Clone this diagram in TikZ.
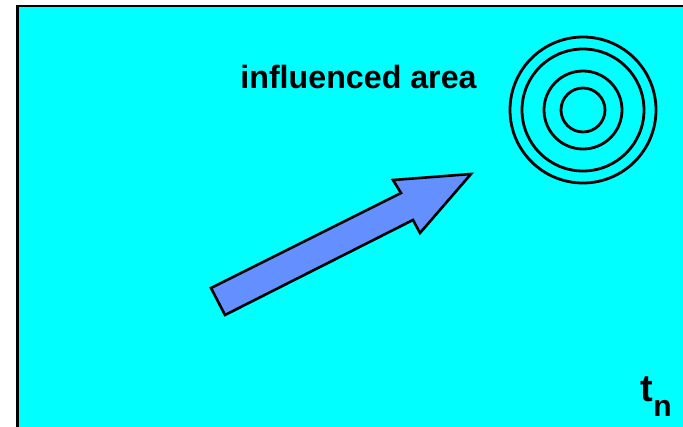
\documentclass[tikz,border=0pt]{standalone}
\usepackage{fontspec}
\setmainfont{Liberation Sans}
\begin{document}
\begin{tikzpicture}[x=1pt, y=-1pt, line cap=round, line join=miter]
  \definecolor{seacyan}{RGB}{0,255,255}
  \definecolor{arrowblue}{RGB}{99,143,255}
  \useasboundingbox (0,0) rectangle (683,426);
  \clip (0,0) rectangle (683,426);
  \coordinate (C) at (583,110);
  \filldraw[fill=seacyan, draw=black, line width=2.8pt] (17.5,6) rectangle (700,440);
  \filldraw[fill=arrowblue, draw=black, line width=2.6pt]
    (211,288) -- (401,193) -- (393,180) -- (471,174) -- (420,233) -- (413,220) -- (225,315) -- cycle;
  \foreach \r in {22,39,61,73}
    \draw[line width=2.8pt] (C) circle (\r);
  \node[font=\bfseries\fontsize{32.2}{32}\selectfont, anchor=base] (label) at (358.5,88.3) {influenced area};
  \node[font=\bfseries\fontsize{38}{38}\selectfont, anchor=base west, inner sep=0pt] (t) at (640,401) {t};
  \node[font=\bfseries\fontsize{30}{30}\selectfont, anchor=base west, inner sep=0pt] (n) at (t.base east) [yshift=-15.5pt] {n};
\end{tikzpicture}
\end{document}
